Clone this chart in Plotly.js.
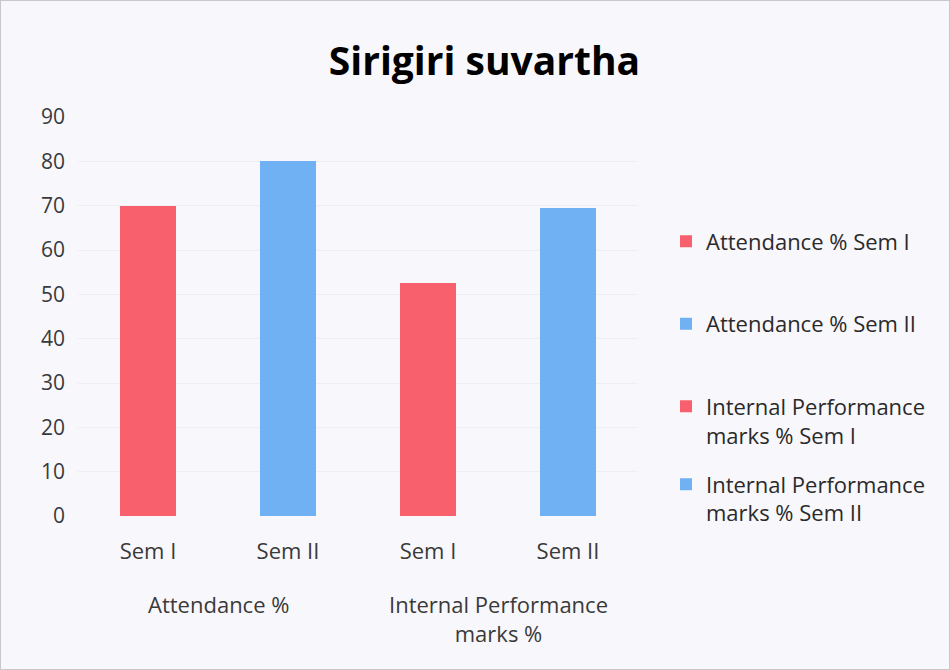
<!DOCTYPE html>
<html><head><meta charset="utf-8">
<script src="https://cdn.plot.ly/plotly-3.0.1.min.js"></script>
<style>
html,body{margin:0;padding:0;background:#fff;}
#wrap{width:948px;height:668px;border:1px solid #c8c8c8;}
#chart{width:948px;height:668px;}
</style></head><body>
<div id="wrap"><div id="chart"></div></div>
<script>
const groupLabels = ["Attendance %", "Internal Performance<br>marks %"];
const groupOf = [0, 0, 1, 1];
const semesters = ["Sem I", "Sem II", "Sem I", "Sem II"];
const categories = ["Attendance % Sem I", "Attendance % Sem II", "Internal Performance marks % Sem I", "Internal Performance marks % Sem II"];
const seriesNames = ["Attendance % Sem I", "Attendance % Sem II", "Internal Performance<br>marks % Sem I", "Internal Performance<br>marks % Sem II"];
const values = [70, 80, 52.5, 69.5];
const colors = ["#f8606e", "#6fb1f3", "#f8606e", "#6fb1f3"];
const legendIds = ["legend", "legend", "legend", "legend2"];

const traces = values.map((v, i) => ({
  type: "bar",
  name: seriesNames[i],
  x: [categories[i]],
  y: [v],
  width: 0.4,
  marker: {color: colors[i]},
  legendgroup: "g" + i,
  legend: legendIds[i],
  hoverinfo: "y"
}));

const annotations = groupLabels.map((g, gi) => {
  const idx = groupOf.map((v, k) => v === gi ? k : -1).filter(k => k >= 0);
  const mid = idx.reduce((a, b) => a + b, 0) / idx.length;
  return {text: g, x: mid, xref: "x", y: -0.178, yref: "paper", yanchor: "top",
          showarrow: false, font: {size: 22, color: "#3a3a3a"}, align: "center"};
});

const legendFont = {size: 22, color: "#2a2a2a", family: "Open Sans, Liberation Sans, sans-serif"};

const layout = {
  width: 948, height: 668,
  paper_bgcolor: "#f8f7fb",
  plot_bgcolor: "#f8f7fb",
  font: {family: "Open Sans, Liberation Sans, sans-serif", color: "#3a3a3a", size: 22},
  title: {text: "<b>Sirigiri suvartha</b>", x: 0.51, xanchor: "center", y: 0.91, yanchor: "middle",
          font: {size: 39, family: "Open Sans, Liberation Sans, sans-serif", color: "#000"}},
  margin: {l: 77, r: 311, t: 116, b: 153},
  barmode: "overlay",
  bargap: 0,
  annotations: annotations,
  xaxis: {type: "category", categoryorder: "array", categoryarray: categories,
          tickvals: categories, ticktext: semesters,
          showgrid: false, zeroline: false, showline: false, ticks: "", ticklabelstandoff: 20,
          tickfont: {size: 22, color: "#3a3a3a"}},
  yaxis: {range: [0, 90], dtick: 10, showgrid: true, gridcolor: "#efeef3", gridwidth: 1,
          zeroline: false, showline: false, ticks: "", ticklabelstandoff: 12,
          tickfont: {size: 21, color: "#3a3a3a"}},
  showlegend: true,
  legend: {x: 1.05, xanchor: "left", y: 0.741, yanchor: "top", traceorder: "grouped",
           tracegroupgap: 51, valign: "top", bgcolor: "rgba(0,0,0,0)", font: legendFont, itemwidth: 30},
  legend2: {x: 1.05, xanchor: "left", y: 0.132, yanchor: "top", valign: "top",
           bgcolor: "rgba(0,0,0,0)", font: legendFont, itemwidth: 30}
};

Plotly.newPlot("chart", traces, layout, {displayModeBar: false, staticPlot: true});
</script></body></html>
